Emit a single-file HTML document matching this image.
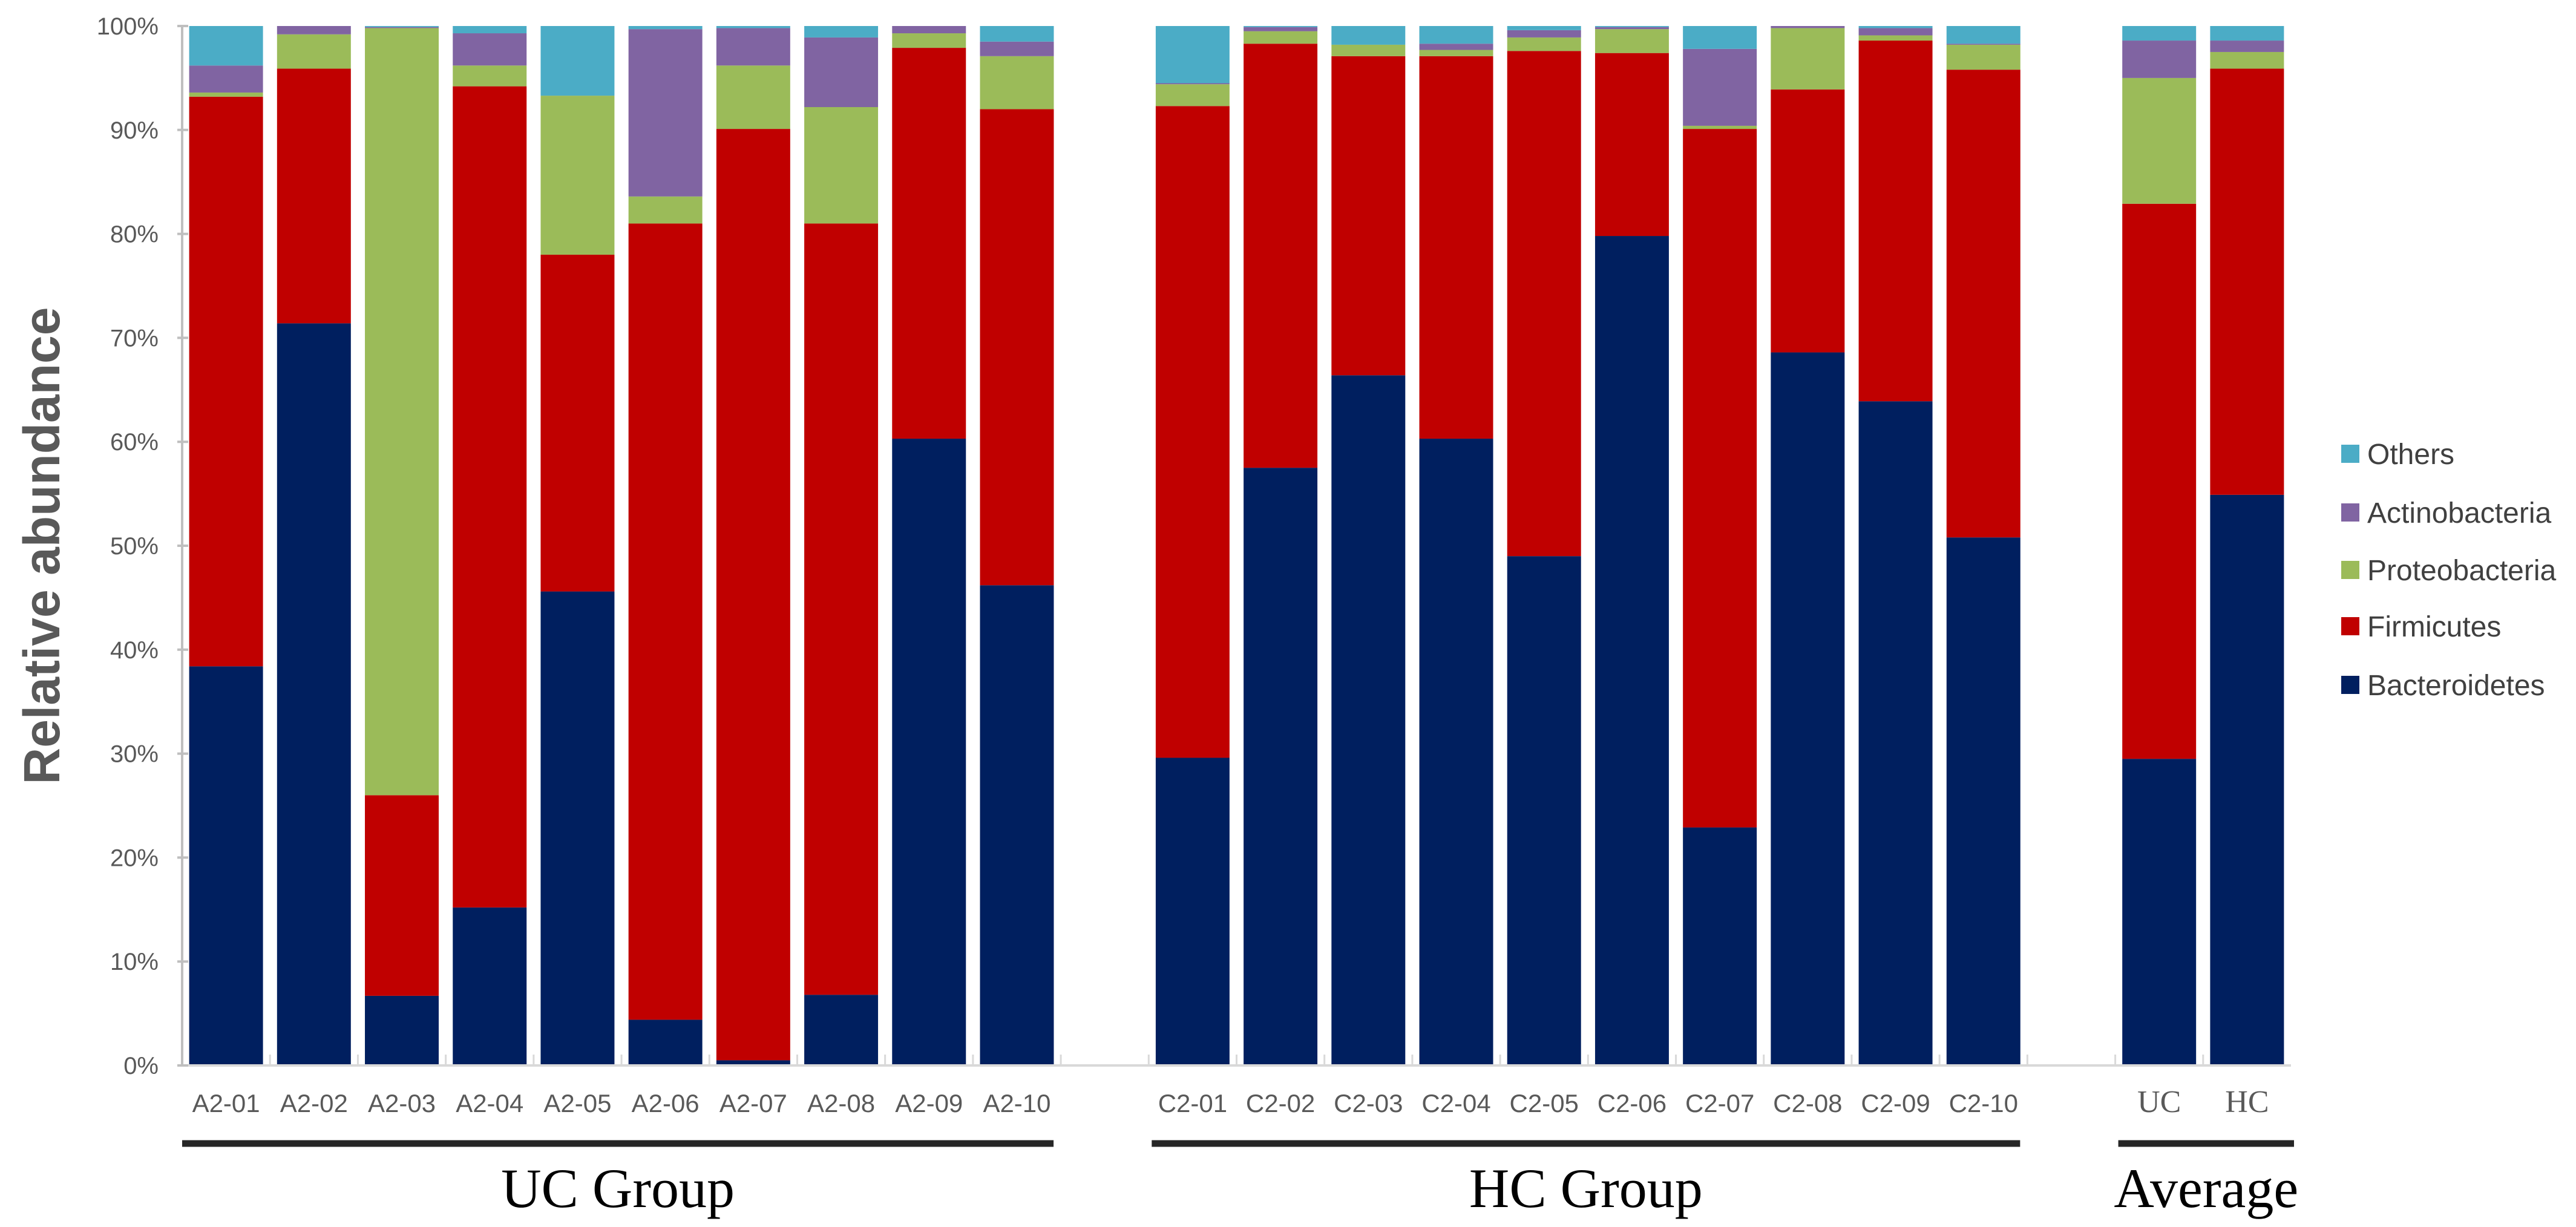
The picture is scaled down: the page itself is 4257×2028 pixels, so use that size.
<!DOCTYPE html>
<html><head><meta charset="utf-8"><style>
html,body{margin:0;padding:0;background:#fff;}
svg{display:block;}
</style></head><body>
<svg id="chart" width="4257" height="2028" viewBox="0 0 4257 2028" xmlns="http://www.w3.org/2000/svg">
<g id="plot"></g>
</svg>
<script>
const categories = ["A2-01","A2-02","A2-03","A2-04","A2-05","A2-06","A2-07","A2-08","A2-09","A2-10","","C2-01","C2-02","C2-03","C2-04","C2-05","C2-06","C2-07","C2-08","C2-09","C2-10","","UC","HC"];
const bacteroidetes = [38.4,71.4,6.7,15.2,45.6,4.4,0.5,6.8,60.3,46.2,null,29.6,57.5,66.4,60.3,49.0,79.8,22.9,68.6,63.9,50.8,null,29.5,54.9];
const firmicutes = [54.8,24.5,19.3,79.0,32.4,76.6,89.6,74.2,37.6,45.8,null,62.7,40.8,30.7,36.8,48.6,17.6,67.2,25.3,34.7,45.0,null,53.4,41.0];
const proteobacteria = [0.4,3.3,73.8,2.0,15.3,2.6,6.1,11.2,1.4,5.1,null,2.1,1.2,1.1,0.6,1.3,2.3,0.3,5.9,0.5,2.4,null,12.1,1.6];
const actinobacteria = [2.6,0.8,0.1,3.1,0,16.1,3.6,6.7,0.7,1.4,null,0.1,0.4,0,0.6,0.7,0.2,7.4,0.2,0.7,0.1,null,3.6,1.1];
const others = [3.8,0,0.1,0.7,6.7,0.3,0.2,1.1,0,1.5,null,5.5,0.1,1.8,1.7,0.4,0.1,2.2,0,0.2,1.7,null,1.4,1.4];
const yTicks = [0,10,20,30,40,50,60,70,80,90,100];
const seriesNames = ["Bacteroidetes","Firmicutes","Proteobacteria","Actinobacteria","Others"];
const seriesColors = ["#001F5F","#C00000","#9BBB59","#8064A2","#4BACC6"];
const groups = [["UC Group",0,9],["HC Group",11,20],["Average",22,23]];

const NS="http://www.w3.org/2000/svg";
const plot=document.getElementById('plot');
const X0=301, X1=3786, Y0=1761, Y1=43;
const slot=(X1-X0)/categories.length;
const barW=slot*0.84;
function xC(i){return X0+slot*(i+0.5);}
function yS(v){return Y0-(v/100)*(Y0-Y1);}
function mk(tag,attrs,parent){const e=document.createElementNS(NS,tag);for(const k in attrs)e.setAttribute(k,attrs[k]);(parent||plot).appendChild(e);return e;}

const series=[bacteroidetes,firmicutes,proteobacteria,actinobacteria,others];
categories.forEach((c,i)=>{
  if(!c) return;
  let cum=0;
  series.forEach((s,k)=>{
    const v=s[i]; if(!v) {return;}
    const r=mk('rect',{x:xC(i)-barW/2,y:yS(cum+v),width:barW,height:yS(cum)-yS(cum+v),fill:seriesColors[k]});
    
    
    cum+=v;
  });
  const t=mk('text',{x:xC(i),y:1838,'text-anchor':'middle',fill:'#595959','font-size':(i>21?52:42),'font-family':(i>21?'"Liberation Serif", serif':'"Liberation Sans", sans-serif')});
  t.textContent=c;
  
  
});
const ax=mk('line',{x1:X0,y1:Y1,x2:X0,y2:Y0,stroke:'#BFBFBF','stroke-width':4});


const bx=mk('line',{x1:X0,y1:Y0,x2:X1,y2:Y0,stroke:'#D9D9D9','stroke-width':4});


for(let i=1;i<categories.length;i++){
  const tk=mk('line',{x1:X0+slot*i,y1:Y0,x2:X0+slot*i,y2:Y0-18,stroke:'#D9D9D9','stroke-width':3});
  
  
}
yTicks.forEach(v=>{
  const tk=mk('line',{x1:X0-8,y1:yS(v),x2:X0+10,y2:yS(v),stroke:'#BFBFBF','stroke-width':4});
  
  
  const t=mk('text',{x:262,y:yS(v)+14,'text-anchor':'end',fill:'#595959','font-size':40,'font-family':'"Liberation Sans", sans-serif'});
  t.textContent=v+'%';
  
  
});
const yt=mk('text',{x:0,y:0,transform:'translate(98,902) rotate(-90)','text-anchor':'middle',fill:'#595959','font-size':84,'font-weight':'bold','font-family':'"Liberation Sans", sans-serif'});
yt.textContent='Relative abundance';


groups.forEach(g=>{
  const a=g[1],b=g[2];
  const xa=(a===0?X0:X0+slot*a+5), xb=(b===23?X1+5:X0+slot*(b+1)-12);
  const l=mk('line',{x1:xa,y1:1890,x2:xb,y2:1890,stroke:'#262626','stroke-width':11});
  
  
  const t=mk('text',{x:(xa+xb)/2,y:1995,'text-anchor':'middle',fill:'#000','font-size':92,'font-family':'"Liberation Serif", serif'});
  t.textContent=g[0];
  
  
});
const legendY=[1133,1036,943,848,751];
seriesNames.forEach((n,k)=>{
  const r=mk('rect',{x:3869,y:legendY[k]-16,width:30,height:30,fill:seriesColors[k]});
  
  
  const t=mk('text',{x:3912,y:legendY[k]+16,fill:'#404040','font-size':48,'font-family':'"Liberation Sans", sans-serif'});
  t.textContent=n;
  
  
});
</script>
</body></html>
